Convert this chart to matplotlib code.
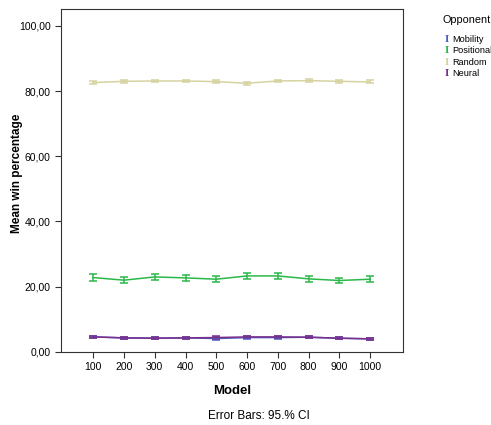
import numpy as np
import matplotlib.pyplot as plt

plt.rcParams['font.family'] = ['Liberation Sans', 'DejaVu Sans']

models = ['100', '200', '300', '400', '500', '600', '700', '800', '900', '1000']
opponents = ['Mobility', 'Positional', 'Random', 'Neural']
colors = ['#4a5cc4', '#2bb84a', '#d6d3a0', '#7b2e8a']

mobility = [4.6, 4.3, 4.2, 4.3, 4.1, 4.4, 4.4, 4.5, 4.2, 4.0]
positional = [22.8, 22.0, 23.0, 22.7, 22.3, 23.3, 23.3, 22.4, 21.9, 22.3]
random_ = [82.6, 83.0, 83.1, 83.1, 82.9, 82.4, 83.1, 83.2, 83.0, 82.8]
neural = [4.6, 4.3, 4.2, 4.3, 4.4, 4.6, 4.6, 4.5, 4.2, 4.0]

mobility_ci = [0.35, 0.3, 0.3, 0.3, 0.35, 0.35, 0.35, 0.3, 0.3, 0.3]
positional_ci = [1.0, 1.0, 1.0, 0.9, 1.0, 1.0, 0.9, 0.9, 0.9, 1.0]
random_ci = [0.45, 0.5, 0.45, 0.45, 0.45, 0.5, 0.45, 0.45, 0.45, 0.45]
neural_ci = [0.4, 0.3, 0.3, 0.3, 0.35, 0.35, 0.35, 0.3, 0.3, 0.3]

fig = plt.figure(figsize=(4.91, 4.25), dpi=100)
ax = fig.add_axes([0.124, 0.172, 0.697, 0.807])

x = np.arange(1, len(models) + 1)
series = [(mobility, mobility_ci), (positional, positional_ci),
          (random_, random_ci), (neural, neural_ci)]
for (vals, ci), c in zip(series, colors):
    ax.errorbar(x, vals, yerr=ci, color=c, lw=1.1, elinewidth=1.1,
                capsize=3, capthick=1.1)

ax.set_xlim(-0.05, 11.07)
ax.set_ylim(0, 105.2)
ax.set_xticks(x)
ax.set_xticklabels(models)
ax.set_yticks([0, 20, 40, 60, 80, 100])
ax.set_yticklabels(['0,00', '20,00', '40,00', '60,00', '80,00', '100,00'])
ax.tick_params(labelsize=7.5, length=4, width=0.8, color='#333333')
for s in ax.spines.values():
    s.set_linewidth(0.8)
    s.set_color('#333333')

ax.set_xlabel('Model', fontsize=9.5, fontweight='bold', labelpad=9)
ax.set_ylabel('Mean win percentage', fontsize=8.5, fontweight='bold')
ax.yaxis.set_label_coords(-0.112, 0.52)

fig.text(0.527, 0.006, 'Error Bars: 95.% CI', ha='center', va='bottom', fontsize=8.5)

fig.text(0.902, 0.953, 'Opponent', fontsize=7.8, va='center')
for i, (name, c) in enumerate(zip(opponents, colors)):
    yy = 0.9075 - i * 0.027
    fig.text(0.905, yy, 'I', color=c, fontsize=8, fontfamily='Liberation Serif',
             fontweight='bold', va='center')
    fig.text(0.921, yy, name, fontsize=6.6, va='center')

fig.savefig('out.png', dpi=100)
